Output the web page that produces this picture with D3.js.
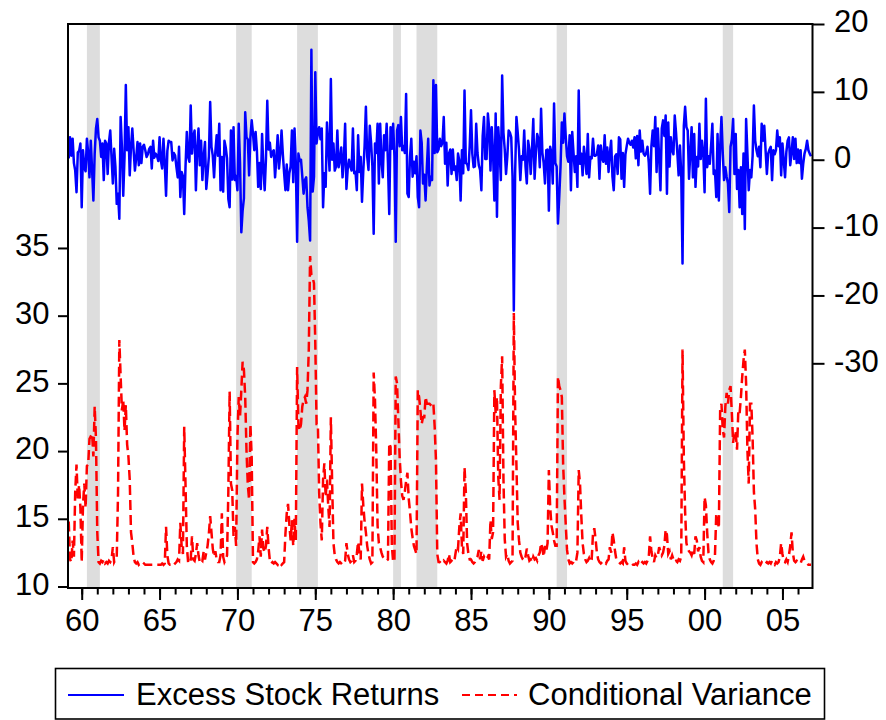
<!DOCTYPE html>
<html>
<head>
<meta charset="utf-8">
<script src="https://cdn.jsdelivr.net/npm/d3@7"></script>
<style>
  html, body { margin: 0; padding: 0; background: #ffffff; }
  svg { display: block; }
  text { font-family: "Liberation Sans", Arial, Helvetica, sans-serif; }
</style>
</head>
<body>
<svg id="chart" width="886" height="720"></svg>
<script>
// Monthly sample: March 1959 through November 2006
const startYear = 1959;
const startMonth = 3;

// Excess stock returns (%), one row per year
const excessReturns = [
  0.2, 3.3, 0.6, 3.1, -0.5, -1.6, -4.8, 1.1, 1.3, 2.4,                 // 1959 (Mar-Dec)
  -7.0, 1.4, -1.2, -1.7, 3.1, 1.0, -2.6, 2.8, -1.5, -6.0, 0.9, 4.6,    // 1960
  6.0, 3.3, 2.8, 0.4, 2.4, -3.0, 2.8, 2.4, -2.1, 2.6, 4.3, 0.3,        // 1961
  -3.5, 1.6, -1.1, -6.5, -5.0, -8.7, 6.3, 1.8, -5.3, 0.4, 11.0, 1.4,   // 1962
  4.8, -2.3, 1.9, 4.6, 1.4, -1.6, 0.3, 2.6, -0.8, 2.4, -0.5, 1.9,      // 1963
  2.2, 1.4, 0.4, 0.8, 1.6, 1.9, -1.3, 2.8, 0.3, 0.9, 0.6, -0.2,        // 1964
  3.3, -0.1, -1.3, 3.1, -0.5, -5.3, 1.3, 2.8, 2.6, 2.6, -0.1, 1.0,     // 1965
  0.6, -1.1, -2.6, 1.9, -5.5, -1.8, -2.4, -8.0, -1.0, 4.1, 0.4, -0.3,  // 1966
  8.0, 0.9, 3.5, 4.3, -4.5, 1.5, 4.6, -0.8, 2.8, -3.0, 0.5, 2.6,       // 1967
  -4.3, -2.1, 0.5, 8.5, 1.9, 0.6, -2.6, 1.2, 3.6, 0.6, 5.3, -4.5,      // 1968
  0.4, -4.7, 2.8, 1.8, 0.2, -5.8, -7.0, 4.3, -2.9, 4.8, -3.0, -2.4,    // 1969
  -4.5, 5.3, -0.5, -10.7, -7.5, -5.7, 7.0, 3.3, 3.0, -2.3, 3.3, 5.8,   // 1970
  3.8, 1.4, 4.1, 1.4, -4.0, -0.5, -4.3, 3.8, -1.3, -4.5, 0.2, 8.7,     // 1971
  1.5, 2.5, 0.4, 1.1, 1.4, -2.6, 0.2, 3.6, -1.3, 0.8, 4.3, 0.8,        // 1972
  -2.0, -4.5, -0.7, -4.5, -2.0, -1.0, 4.3, -3.3, 4.6, -0.5, -12.1, 0.9, // 1973
  -0.2, 0.0, -2.5, -5.0, -3.0, -2.6, -7.0, -9.0, -11.9, 16.2, -4.7, -2.5, // 1974
  12.9, 2.4, 4.0, 4.8, 3.0, 4.6, -7.0, -2.0, -4.0, 5.5, 2.0, -1.6,     // 1975
  11.9, 0.0, 2.4, -1.6, -1.0, 4.3, -1.1, 0.0, 1.8, -2.6, 0.0, 5.3,     // 1976
  -4.3, -1.3, 0.0, -1.0, -1.6, 4.6, -2.0, -1.8, -4.5, 3.6, -1.8, 0.4,  // 1977
  -6.2, -1.6, 2.0, 7.8, 0.5, -1.5, 5.0, 2.5, -1.0, -10.9, 2.4, 1.0,    // 1978
  5.3, -3.5, 5.3, -0.1, -2.6, 3.6, 1.4, 5.3, -0.5, -8.0, 4.8, 1.6,     // 1979
  5.3, 0.5, -12.1, 4.3, 5.1, 2.0, 6.3, 1.4, 2.0, 1.0, 9.7, -5.0,       // 1980
  -5.5, 0.5, 3.1, -2.5, -0.3, -2.0, 0.5, -5.5, -7.0, 4.3, 2.5, -3.5,   // 1981
  -2.2, -6.0, -1.0, 3.1, -3.8, -2.5, -3.0, 11.7, 1.0, 11.0, 1.1, 1.5,  // 1982
  3.1, 2.0, 2.5, 6.3, -0.6, 2.5, -3.8, 0.9, 1.5, -2.1, 1.5, -1.5,      // 1983
  -1.0, -3.0, 0.9, -0.2, -6.0, 1.4, -2.0, 10.2, -0.5, -0.6, -1.5, 2.0, // 1984
  7.3, 0.9, -1.1, -1.0, 5.3, 1.0, -0.8, -1.5, -4.5, 3.5, 6.3, 0.1,     // 1985
  0.1, 6.8, 4.5, -1.6, 4.8, 1.0, -6.0, 6.8, -8.4, 4.8, 1.5, -3.0,      // 1986
  12.4, 4.0, 1.5, -2.1, 0.5, 4.3, 4.0, 3.3, -2.5, -22.2, -2.0, 6.3,    // 1987
  4.0, 1.4, -3.0, 0.5, 0.0, 4.3, -1.0, -3.5, 2.8, 1.5, -2.1, 1.5,      // 1988
  6.0, -2.8, 1.0, 3.8, 3.0, -1.1, 7.5, 1.0, -0.5, -3.5, 1.4, 1.5,      // 1989
  -7.5, 1.9, 1.0, -3.5, 8.3, -0.5, -1.0, -9.4, -5.5, -1.0, 5.5, 2.5,   // 1990
  6.8, 3.4, 0.5, -0.3, 3.6, -4.5, 4.1, 1.0, -1.8, 0.5, -4.0, 10.2,     // 1991
  -0.6, 0.9, -2.3, 1.9, 0.2, -2.1, 3.8, -2.6, 0.4, 0.2, 3.1, 0.6,      // 1992
  0.6, 0.8, 2.1, -2.8, 2.1, 0.2, -0.3, 3.6, -0.6, 1.8, -1.8, 1.0,      // 1993
  2.8, -2.5, -4.5, 0.5, 0.8, -2.1, 3.3, 3.0, -2.8, 1.0, -4.0, 0.8,     // 1994
  2.0, 3.1, 2.5, 2.2, 2.8, 1.8, 3.3, 0.2, 3.5, -0.8, 4.3, 1.2,         // 1995
  2.8, 0.9, 0.6, 1.0, 1.9, -0.5, -5.0, 2.0, 4.3, 2.0, 6.3, -1.8,       // 1996
  4.6, 0.2, -4.5, 4.6, 5.8, 3.5, 6.5, -5.0, 5.5, -1.0, 3.3, 1.4,       // 1997
  0.8, 6.5, 4.0, 1.0, -2.3, 2.1, -2.0, -15.3, 5.0, 7.8, 4.8, 4.3,      // 1998
  -2.8, 1.0, 4.8, -2.6, 3.8, -4.0, 0.4, -1.0, 5.3, 0.1, 2.8, 1.0,      // 1999
  -4.8, 9.0, -1.1, 0.5, -0.6, 2.0, 5.3, -2.1, -1.6, -5.5, 3.8, -6.0,   // 2000
  1.9, 6.3, 1.0, -3.0, -1.1, -2.5, -3.5, -7.7, 1.9, 3.0, 6.0, -2.1,    // 2001
  3.8, -4.3, -1.5, -7.0, -1.1, -8.0, 0.9, -10.2, 6.0, 0.9, -4.5, -1.5, // 2002
  -2.6, 0.5, 8.0, 2.8, 1.4, 0.5, 1.9, -1.1, 5.3, 2.8, 5.0, 1.4,        // 2003
  -2.1, 0.9, 1.5, 1.9, -3.0, 1.4, 0.8, 1.4, 4.3, 2.0, 3.3, -2.3,       // 2004
  2.4, -0.1, -2.6, 1.1, 2.8, 3.3, -0.8, 1.0, 3.3, 0.1, 3.1, -0.5,      // 2005
  1.5, -0.5, 1.4, -2.8, -0.6, 0.9, 1.6, 2.8, 1.4, 0.9, 0.5             // 2006 (Jan-Nov)
];

// Conditional variance, one row per year
const conditionalVariance = [
  14.8, 12.0, 11.8, 13.4, 12.2, 17.0, 19.0, 16.4, 17.5, 15.8,             // 1959 (Mar-Dec)
  11.8, 16.0, 17.6, 15.8, 18.9, 19.0, 20.9, 21.1, 21.3, 19.6, 23.3, 20.9, // 1960
  14.0, 11.8, 11.7, 11.9, 11.8, 12.0, 11.7, 11.8, 11.7, 11.9, 11.8, 12.0, // 1961
  12.9, 11.8, 12.0, 12.2, 16.9, 28.2, 25.5, 23.0, 23.8, 21.5, 23.4, 20.5, // 1962
  19.6, 17.9, 14.0, 13.2, 12.2, 11.8, 11.7, 11.8, 11.6, 11.7, 11.6, 11.6, // 1963
  11.7, 11.6, 11.6, 11.6, 11.6, 11.6, 11.6, 11.6, 11.6, 11.6, 11.6, 11.6, // 1964
  11.6, 11.6, 11.7, 11.6, 11.7, 14.4, 12.3, 11.7, 11.6, 11.6, 11.7, 11.6, // 1965
  11.7, 11.8, 12.0, 11.9, 14.7, 13.0, 12.4, 21.8, 17.5, 13.0, 11.8, 11.7, // 1966
  12.0, 13.7, 12.0, 11.9, 12.4, 13.2, 12.3, 11.8, 12.0, 11.9, 12.6, 12.0, // 1967
  12.5, 13.0, 13.9, 15.2, 14.0, 12.8, 12.2, 12.6, 12.0, 11.8, 11.8, 12.3, // 1968
  15.4, 12.2, 11.8, 12.0, 12.3, 17.0, 24.4, 17.6, 17.1, 13.7, 14.4, 13.0, // 1969
  21.0, 24.0, 22.5, 24.5, 26.6, 26.0, 24.0, 20.0, 17.5, 16.4, 22.0, 19.5, // 1970
  11.8, 11.7, 11.8, 12.0, 12.6, 13.7, 12.2, 14.2, 12.8, 12.5, 13.0, 14.4, // 1971
  12.9, 11.9, 11.7, 11.8, 11.7, 11.8, 11.7, 11.6, 11.8, 11.7, 11.6, 11.7, // 1972
  11.8, 13.9, 15.4, 16.1, 14.6, 13.4, 14.9, 13.0, 15.0, 13.4, 26.2, 22.0, // 1973
  21.5, 22.0, 23.3, 23.8, 24.0, 23.5, 24.5, 27.5, 34.4, 33.0, 32.8, 32.4, // 1974
  28.0, 22.0, 22.0, 16.9, 14.7, 13.4, 17.9, 19.1, 16.6, 17.9, 15.9, 14.4, // 1975
  22.5, 17.6, 13.2, 12.3, 12.0, 11.8, 11.7, 11.8, 11.7, 11.6, 11.7, 11.9, // 1976
  13.2, 12.4, 12.0, 11.8, 11.9, 12.3, 11.8, 11.9, 12.4, 13.3, 12.5, 12.0, // 1977
  17.6, 16.0, 14.8, 14.0, 13.0, 12.4, 12.0, 11.7, 11.8, 25.8, 23.8, 20.0, // 1978
  14.5, 13.2, 12.9, 12.5, 12.2, 12.1, 12.0, 11.9, 12.0, 20.6, 20.3, 13.0, // 1979
  11.8, 11.9, 25.5, 25.0, 22.3, 19.6, 17.8, 16.7, 16.4, 17.0, 17.8, 18.4, // 1980
  16.5, 15.5, 14.3, 13.6, 13.0, 12.7, 12.4, 24.5, 24.0, 23.0, 22.0, 22.5, // 1981
  22.5, 24.0, 23.5, 23.5, 23.5, 23.4, 23.3, 23.5, 21.8, 19.3, 12.4, 11.8, // 1982
  11.8, 11.7, 11.7, 11.9, 11.8, 11.7, 11.9, 12.4, 11.8, 11.9, 11.8, 11.8, // 1983
  12.4, 13.0, 12.8, 14.4, 15.4, 13.0, 12.4, 18.8, 17.0, 13.2, 12.4, 12.0, // 1984
  12.0, 11.8, 11.7, 11.8, 12.0, 12.2, 12.7, 12.0, 12.6, 11.9, 12.2, 12.0, // 1985
  12.0, 12.2, 12.0, 14.9, 13.5, 14.0, 24.5, 22.8, 24.0, 18.1, 16.4, 24.8, // 1986
  27.0, 18.0, 13.5, 12.2, 12.4, 11.9, 11.7, 11.8, 11.9, 30.2, 23.0, 19.0, // 1987
  14.7, 13.4, 12.5, 12.2, 12.0, 11.9, 12.2, 12.8, 12.3, 11.9, 12.0, 11.8, // 1988
  12.2, 12.0, 12.1, 11.9, 12.3, 12.5, 13.2, 12.8, 12.2, 13.0, 12.6, 13.2, // 1989
  18.6, 15.9, 14.5, 14.0, 13.4, 13.0, 13.0, 25.5, 24.8, 24.5, 24.0, 19.0, // 1990
  16.6, 14.6, 12.7, 12.0, 11.7, 11.8, 11.7, 11.8, 12.0, 11.9, 12.5, 18.6, // 1991
  17.6, 15.2, 13.2, 12.4, 12.0, 11.8, 11.9, 12.1, 11.8, 12.0, 13.9, 14.3, // 1992
  13.5, 12.5, 12.0, 11.8, 11.7, 11.8, 11.9, 11.8, 11.7, 11.9, 12.0, 12.9, // 1993
  12.5, 14.0, 13.4, 12.6, 12.0, 11.9, 11.8, 11.7, 11.8, 11.7, 12.9, 11.9, // 1994
  11.7, 11.6, 11.6, 11.6, 11.7, 11.6, 11.6, 11.7, 11.6, 11.8, 11.6, 11.7, // 1995
  11.8, 11.7, 11.8, 11.7, 11.9, 12.2, 13.7, 12.6, 12.1, 11.8, 12.3, 12.1, // 1996
  12.3, 12.9, 12.6, 12.3, 12.5, 13.0, 14.2, 13.8, 12.4, 12.6, 12.0, 12.3, // 1997
  12.0, 11.8, 11.9, 11.8, 12.0, 11.9, 12.2, 27.5, 19.5, 15.5, 13.2, 12.8, // 1998
  12.6, 12.5, 12.3, 12.7, 12.4, 13.7, 13.4, 12.6, 12.9, 12.2, 11.9, 11.8, // 1999
  16.6, 16.0, 14.0, 12.5, 12.0, 11.8, 11.7, 11.9, 12.3, 15.4, 15.0, 14.3, // 2000
  23.0, 23.5, 21.6, 21.0, 23.3, 24.3, 23.5, 24.5, 24.8, 22.8, 20.6, 21.5, // 2001
  21.3, 20.1, 23.0, 22.8, 24.0, 25.5, 26.7, 27.5, 25.0, 20.1, 17.6, 23.5, // 2002
  23.5, 21.0, 17.0, 15.7, 13.2, 12.0, 11.7, 11.6, 11.8, 11.7, 11.6, 11.7, // 2003
  11.8, 11.7, 11.8, 11.7, 11.9, 11.7, 11.6, 11.8, 11.7, 11.8, 12.2, 13.2, // 2004
  12.4, 11.9, 11.8, 12.0, 11.8, 12.3, 13.0, 14.0, 12.5, 11.9, 11.8, 11.9, // 2005
  11.8, 11.7, 11.7, 12.0, 12.2, 11.9, 11.8, 11.7, 11.6, 11.6, 11.6        // 2006 (Jan-Nov)
];

// Recession periods shaded behind the series (first and last month)
const recessionStart = ["1960-05", "1969-12", "1973-11", "1980-01", "1981-07", "1990-07", "2001-03"];
const recessionEnd   = ["1961-03", "1970-12", "1975-03", "1980-07", "1982-11", "1991-03", "2001-11"];

// Axis ticks and labels
const majorYears  = [1960, 1965, 1970, 1975, 1980, 1985, 1990, 1995, 2000, 2005];
const majorLabels = ["60", "65", "70", "75", "80", "85", "90", "95", "00", "05"];
const minorYears  = d3.range(1960, 2007);
const leftTicks   = [10, 15, 20, 25, 30, 35];
const rightTicks  = [-30, -20, -10, 0, 10, 20];
const seriesNames = ["Excess Stock Returns", "Conditional Variance"];

// ---------------------------------------------------------------
const svg = d3.select("#chart");
const fontSize = 31;
const plot = { left: 68, right: 812.5, top: 24, bottom: 588 };
const lineWidth = 2.5;
const dashPattern = "10,5";

const x  = d3.scaleLinear().domain([1959.12, 2006.93]).range([plot.left, plot.right]);
const yL = d3.scaleLinear().domain([9.889, 51.54]).range([plot.bottom, plot.top]);
const yR = d3.scaleLinear().domain([-63.11, 20]).range([plot.bottom, plot.top]);

const monthTime = i => startYear + (startMonth - 1 + i) / 12;
const parseYm = s => { const [y, m] = s.split("-").map(Number); return y + (m - 1) / 12; };
const plainNumber = d => String(d);   // ASCII hyphen for negatives

svg.append("rect").attr("width", 886).attr("height", 720).attr("fill", "#ffffff");

svg.append("clipPath").attr("id", "plotClip")
  .append("rect")
  .attr("x", plot.left).attr("y", plot.top)
  .attr("width", plot.right - plot.left).attr("height", plot.bottom - plot.top);

// recession shading
svg.append("g").selectAll("rect")
  .data(recessionStart.map((s, i) => [parseYm(s), parseYm(recessionEnd[i])]))
  .join("rect")
  .attr("x", d => x(d[0]))
  .attr("width", d => x(d[1]) - x(d[0]))
  .attr("y", plot.top)
  .attr("height", plot.bottom - plot.top)
  .attr("fill", "#dddddd");

const body = svg.append("g").attr("clip-path", "url(#plotClip)");

// excess returns on the right-hand scale
body.append("path")
  .datum(excessReturns)
  .attr("fill", "none")
  .attr("stroke", "#0000ff")
  .attr("stroke-width", lineWidth)
  .attr("stroke-linejoin", "round")
  .attr("d", d3.line().x((d, i) => x(monthTime(i))).y(d => yR(d)));

// conditional variance on the left-hand scale
body.append("path")
  .datum(conditionalVariance)
  .attr("fill", "none")
  .attr("stroke", "#ff0000")
  .attr("stroke-width", lineWidth)
  .attr("stroke-dasharray", dashPattern)
  .attr("d", d3.line().x((d, i) => x(monthTime(i))).y(d => yL(d)));

// axes
function styleAxis(g) {
  g.select(".domain").remove();
  g.selectAll(".tick line").attr("stroke", "#000").attr("stroke-width", 2);
  g.selectAll(".tick text")
    .attr("fill", "#000")
    .style("font-size", fontSize + "px")
    .style("font-family", '"Liberation Sans", Arial, sans-serif');
}

svg.append("g")
  .attr("transform", `translate(${plot.left},0)`)
  .call(d3.axisLeft(yL).tickValues(leftTicks).tickSize(10).tickPadding(8.5).tickFormat(plainNumber))
  .call(styleAxis)
  .call(g => g.selectAll(".tick text").attr("dy", "0.25em"));

svg.append("g")
  .attr("transform", `translate(${plot.right},0)`)
  .call(d3.axisRight(yR).tickValues(rightTicks).tickSize(12).tickPadding(9.5).tickFormat(plainNumber))
  .call(styleAxis)
  .call(g => g.selectAll(".tick text").attr("dy", "0.25em"));

svg.append("g")
  .attr("transform", `translate(0,${plot.bottom})`)
  .call(d3.axisBottom(x).tickValues(minorYears).tickSize(6.5).tickFormat(""))
  .call(styleAxis);

svg.append("g")
  .attr("transform", `translate(0,${plot.bottom})`)
  .call(d3.axisBottom(x).tickValues(majorYears).tickSize(12).tickPadding(9.4)
    .tickFormat((d, i) => majorLabels[i]))
  .call(styleAxis);

// frame
svg.append("rect")
  .attr("x", plot.left).attr("y", plot.top)
  .attr("width", plot.right - plot.left).attr("height", plot.bottom - plot.top)
  .attr("fill", "none").attr("stroke", "#000").attr("stroke-width", 2);

// legend
const legend = svg.append("g");
legend.append("rect")
  .attr("x", 55.5).attr("y", 668.5).attr("width", 769).attr("height", 50.5)
  .attr("fill", "#ffffff").attr("stroke", "#000").attr("stroke-width", 1.6);

legend.append("line")
  .attr("x1", 68).attr("x2", 124).attr("y1", 695).attr("y2", 695)
  .attr("stroke", "#0000ff").attr("stroke-width", 2);
legend.append("text")
  .attr("x", 136).attr("y", 705)
  .style("font-size", fontSize + "px").attr("fill", "#000")
  .text(seriesNames[0]);

legend.append("line")
  .attr("x1", 462).attr("x2", 517).attr("y1", 695).attr("y2", 695)
  .attr("stroke", "#ff0000").attr("stroke-width", 2).attr("stroke-dasharray", "8,5");
legend.append("text")
  .attr("x", 528).attr("y", 705)
  .style("font-size", fontSize + "px").attr("fill", "#000")
  .text(seriesNames[1]);
</script>
</body>
</html>
